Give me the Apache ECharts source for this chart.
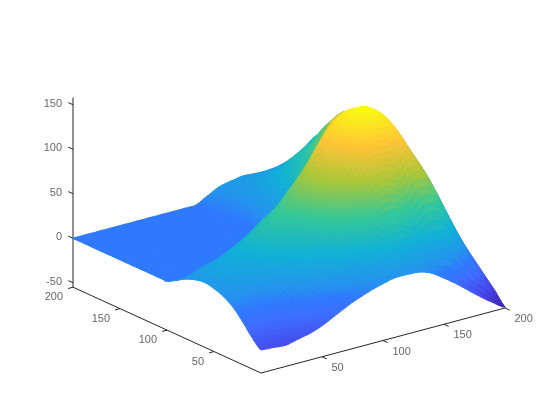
<!DOCTYPE html>
<html><head><meta charset="utf-8">
<style>html,body{margin:0;padding:0;background:#fff}#c{width:560px;height:420px}</style>
<script src="https://cdn.jsdelivr.net/npm/echarts@6/dist/echarts.min.js"></script>
</head><body><div id="c"></div>
<script>
// Grid coordinates of the surface
const xValues=[0,10,20,30,40,50,60,70,80,90,100,110,120,130,140,150,160,170,180,190,200];
const yValues=[0,10,20,30,40,50,60,70,80,90,100,110,120,130,140,150,160,170,180,190,200];
// Heights: one list per x, entries for y = 0,10,...,200
const h000=[-29,-19,-6,5,12,16,18,16,12,6,0,0,0,0,0,0,0,0,0,0,0];
const h010=[-30,-20,-8,4,12,18,22,22,18,6,0,0,0,0,0,0,0,0,0,0,0];
const h020=[-31,-20,-8,4,14,22,27,27,22,12,0,0,0,0,0,0,0,0,0,0,0];
const h030=[-28,-18,-6,7,18,26,32,33,26,15,0,0,0,0,0,0,0,0,0,0,0];
const h040=[-25,-15,-2,12,24,32,38,41,32,21,0,0,0,0,0,0,0,0,0,0,0];
const h050=[-20,-9,8,20,31,40,47,50,41,27,0,0,0,0,0,0,0,0,0,0,0];
const h060=[-13,-3,13,27,38,47,55,60,50,35,0,0,0,0,0,0,0,0,0,0,0];
const h070=[-6,5,20,33,45,54,62,66,58,45,0,0,0,0,0,0,0,0,0,0,0];
const h080=[0,12,27,42,55,65,73,78,71,52,0,0,0,0,0,0,0,0,0,0,0];
const h090=[5,18,34,52,68,80,88,90,85,66,0,0,0,0,0,0,0,0,0,0,0];
const h100=[9,23,42,63,80,92,100,104,100,80,0,0,0,0,0,0,0,0,0,0,0];
const h110=[12,28,50,72,90,105,118,125,125,100,70,48,30,17,8,4,3,3,4,5,7];
const h120=[12,30,55,82,105,122,135,142,140,120,95,72,50,33,22,16,12,11,12,13,14];
const h130=[11,28,55,85,112,132,147,153,150,138,120,95,70,46,31,27,23,20,18,17,17];
const h140=[6,22,47,77,108,132,150,158,153,145,133,115,92,68,55,45,37,30,25,21,19];
const h150=[-3,22,58,92,118,136,146,150,146,142,133,126,114,86,65,55,45,40,31,22,18];
const h160=[-13,22,58,88,103,114,124,132,136,136,134,128,118,106,85,72,58,50,34,25,18];
const h170=[-24,8,42,62,77,89,100,110,118,124,126,124,120,112,100,85,70,54,44,29,20];
const h180=[-35,-6,16,32,47,61,75,87,97,107,115,118,117,113,106,98,84,69,51,35,25];
const h190=[-45,-22,-8,4,16,32,47,60,73,85,94,100,103,105,102,97,88,76,58,43,33];
const h200=[-54,-42,-31,-20,-9,3,18,33,47,60,71,80,88,92,93,91,86,75,63,52,43];
const heights=[h000,h010,h020,h030,h040,h050,h060,h070,h080,h090,h100,h110,h120,h130,h140,h150,h160,h170,h180,h190,h200];
// Tick labels
const xTicks=[50,100,150,200];
const yTicks=[50,100,150,200];
const zTicks=[-50,0,50,100,150];
// Box limits
const zMin=-55, zMax=158, xMax=200, yMax=200;
const shadeSteps=4; // shading facets inside each grid cell

function project(x,y,z){
  return [261+1.22*x-0.94*y, 373-0.325*x-0.429*y-0.89*(z-zMin)];
}
const parula=[[0,.2422,.1504,.6603],[.1,.2803,.2782,.9221],[.2,.2440,.4358,.9988],[.26,.188,.478,.995],[.3,.1540,.5689,.9400],[.429,.0689,.6948,.8394],[.571,.2161,.7843,.5923],[.714,.6720,.7793,.2227],[.857,.9970,.7659,.2199],[1,.9769,.9839,.0805]];
function colorAt(t){
  t=Math.max(0,Math.min(1,t));
  for(let i=1;i<parula.length;i++){
    if(t<=parula[i][0]){
      const a=parula[i-1],b=parula[i],f=(t-a[0])/(b[0]-a[0]);
      const c=[1,2,3].map(k=>Math.round(255*(a[k]+(b[k]-a[k])*f)));
      return 'rgb('+c.join(',')+')';
    }
  }
  return 'rgb(249,251,21)';
}
const tOf=z=>(z-zMin)/(zMax-zMin);
// Smooth surface evaluation through the grid heights (surface shading, like a line's smooth option)
const cr=(a,b,c,d,s)=>b+0.5*s*(c-a+s*(2*a-5*b+4*c-d+s*(3*(b-c)+d-a)));
const at=(i,j)=>heights[Math.max(0,Math.min(20,i))][Math.max(0,Math.min(20,j))];
function surf(i,j,u,v){
  const corners=[at(i,j),at(i+1,j),at(i,j+1),at(i+1,j+1)];
  if(corners.every(c=>c===corners[0])) return corners[0];
  const row=k=>cr(at(i-1,k),at(i,k),at(i+1,k),at(i+2,k),u);
  return cr(row(j-1),row(j),row(j+1),row(j+2),v);
}
// Cells listed far to near so the nearer ones cover the farther ones
const cells=[];
for(let j=yValues.length-2;j>=0;j--) for(let i=xValues.length-2;i>=0;i--) cells.push([i,j]);

function renderCell(params,api){
  const i=api.value(0),j=api.value(1),n=shadeSteps,kids=[];
  const pt=(a,b)=>{
    const u=a/n,v=b/n,z=surf(i,j,u,v);
    return {p:api.coord(project(xValues[i]+10*u,yValues[j]+10*v,z)),z:z};
  };
  for(let b=n-1;b>=0;b--) for(let a=n-1;a>=0;a--){
    const A=pt(a,b),B=pt(a+1,b),C=pt(a+1,b+1),D=pt(a,b+1);
    const col=colorAt(tOf((A.z+B.z+C.z+D.z)/4));
    kids.push({type:'polygon',shape:{points:[A.p,B.p,C.p,D.p]},style:{fill:col,stroke:col,lineWidth:1.1},silent:true});
  }
  return {type:'group',children:kids};
}
// Axis lines and tick marks
const seg=[];
const addSeg=(a,b)=>seg.push([...project(...a),...project(...b)]);
addSeg([0,0,zMin],[xMax,0,zMin]);
addSeg([0,0,zMin],[0,yMax,zMin]);
addSeg([0,yMax,zMin],[0,yMax,zMax]);
xTicks.forEach(t=>addSeg([t,0,zMin],[t,-5,zMin]));
yTicks.forEach(t=>addSeg([0,t,zMin],[-4,t,zMin]));
zTicks.forEach(t=>addSeg([0,yMax,t],[0,yMax+5,t]));
function renderSeg(params,api){
  const a=api.coord([api.value(0),api.value(1)]),b=api.coord([api.value(2),api.value(3)]);
  return {type:'line',shape:{x1:a[0],y1:a[1],x2:b[0],y2:b[1]},style:{stroke:'#262626',lineWidth:1},silent:true};
}
const labelFont={fontFamily:'Liberation Sans',fontSize:11,color:'#404040'};
function labelSeries(points,texts,align,offset){
  return {type:'scatter',symbolSize:0,silent:true,z:6,
    data:points.map((p,k)=>({value:p,name:String(texts[k])})),
    label:{show:true,position:'inside',formatter:'{b}',align:align,verticalAlign:'middle',offset:offset,...labelFont}};
}
const chart=echarts.init(document.getElementById('c'),null,{renderer:'canvas'});
chart.setOption({
  animation:false,
  backgroundColor:'#fff',
  grid:{left:0,right:0,top:0,bottom:0},
  xAxis:{type:'value',min:0,max:560,show:false},
  yAxis:{type:'value',min:0,max:420,inverse:true,show:false},
  series:[
    {type:'custom',data:seg,renderItem:renderSeg,z:2,silent:true,clip:false},
    {type:'custom',data:cells,renderItem:renderCell,z:3,silent:true,clip:false,progressive:0},
    labelSeries(xTicks.map(t=>project(t,0,zMin)),xTicks,'left',[9.5,11]),
    labelSeries(yTicks.map(t=>project(0,t,zMin)),yTicks,'right',[-10,10]),
    labelSeries(zTicks.map(t=>project(0,yMax,t)),zTicks,'right',[-11,-1])
  ]
});
</script></body></html>
